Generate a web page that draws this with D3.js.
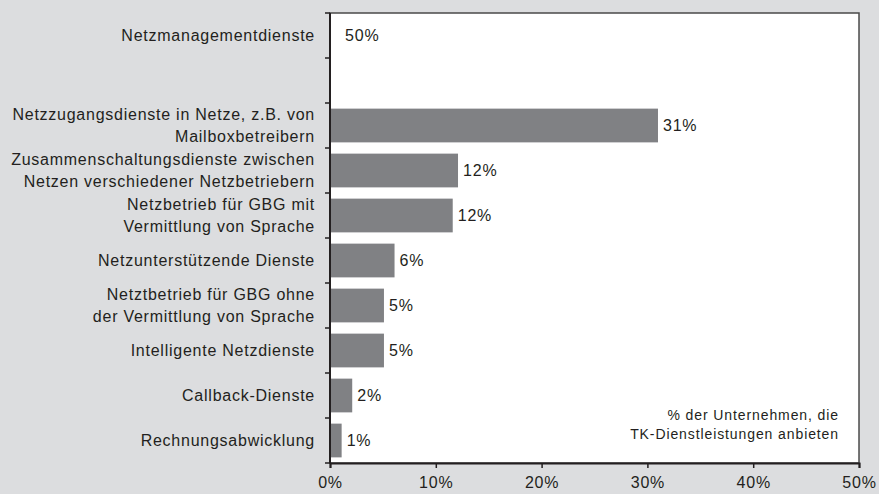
<!DOCTYPE html>
<html>
<head>
<meta charset="utf-8">
<script src="https://cdn.jsdelivr.net/npm/d3@7"></script>
<style>
  html, body { margin: 0; padding: 0; background: #dcdddf; }
  svg { display: block; }
  text { font-family: "Liberation Sans", Arial, sans-serif; fill: #231f20; }
</style>
</head>
<body>
<svg id="chart" width="879" height="494"></svg>
<script>
// TK-Dienstleistungen: share of companies offering each service

// Row keys top to bottom; "gap" is the empty slot below Netzmanagementdienste
const categories = [
  "netzmgmt", "gap", "netzzugang", "zusammenschaltung", "netzbetriebMit",
  "netzunterstuetzend", "netzbetriebOhne", "intelligent", "callback", "rechnung"
];
const categoryLines = [
  ["Netzmanagementdienste"],
  [],
  ["Netzzugangsdienste in Netze, z.B. von", "Mailboxbetreibern"],
  ["Zusammenschaltungsdienste zwischen", "Netzen verschiedener Netzbetriebern"],
  ["Netzbetrieb für GBG mit", "Vermittlung von Sprache"],
  ["Netzunterstützende Dienste"],
  ["Netztbetrieb für GBG ohne", "der Vermittlung von Sprache"],
  ["Intelligente Netzdienste"],
  ["Callback-Dienste"],
  ["Rechnungsabwicklung"]
];
// bar lengths as drawn (percent); null = no bar / no label
const shares = [50, null, 31, 12.1, 11.6, 6.1, 5.1, 5.1, 2.1, 1.1];
const shareLabels = ["50%", "", "31%", "12%", "12%", "6%", "5%", "5%", "2%", "1%"];
// the 50% row carries only its label in the source, no bar
const labelOnly = ["netzmgmt"];

const xTicks = [0, 10, 20, 30, 40, 50];
const noteLines = ["% der Unternehmen, die", "TK-Dienstleistungen anbieten"];

const W = 879, H = 494;
const margin = { top: 13, right: 20, bottom: 31, left: 330 };
const innerW = W - margin.left - margin.right;
const innerH = H - margin.top - margin.bottom;

const svg = d3.select("#chart");
const g = svg.append("g").attr("transform", `translate(${margin.left},${margin.top})`);

const x = d3.scaleLinear().domain([0, 50]).range([0, innerW]);
const y = d3.scaleBand().domain(categories).range([0, innerH])
  .paddingInner(0.25).paddingOuter(0.125);
const step = y.step();
const slotTop = k => y(k) - step * 0.125;

// plot area
g.append("rect")
  .attr("x", 0).attr("y", 0)
  .attr("width", innerW).attr("height", innerH)
  .attr("fill", "#fff")
  .attr("stroke", "#4a4a4a")
  .attr("stroke-width", 1.5);

// bars
const rows = categories.map((k, i) => ({ key: k, lines: categoryLines[i], value: shares[i], label: shareLabels[i] }));

g.selectAll("rect.bar")
  .data(rows.filter(d => d.value != null && !labelOnly.includes(d.key)))
  .join("rect")
    .attr("class", "bar")
    .attr("x", x(0))
    .attr("y", d => y(d.key))
    .attr("width", d => x(d.value) - x(0))
    .attr("height", y.bandwidth())
    .attr("fill", "#808184");

// value labels
g.selectAll("text.value")
  .data(rows.filter(d => d.label))
  .join("text")
    .attr("class", "value")
    .attr("x", d => labelOnly.includes(d.key) ? x(0) + 15 : x(d.value) + 5)
    .attr("y", d => y(d.key) + y.bandwidth() / 2)
    .attr("dy", "0.36em")
    .style("font-size", "16px")
    .style("letter-spacing", "0.8px")
    .text(d => d.label);

// left axis with ticks at the slot boundaries
const boundaries = categories.map(slotTop).concat([innerH]);
g.selectAll("line.ytick")
  .data(boundaries)
  .join("line")
    .attr("class", "ytick")
    .attr("x1", -5).attr("x2", 0)
    .attr("y1", d => d).attr("y2", d => d)
    .attr("stroke", "#231f20")
    .attr("stroke-width", 1.5);

g.append("line")
  .attr("x1", 0).attr("x2", 0).attr("y1", 0).attr("y2", innerH)
  .attr("stroke", "#231f20").attr("stroke-width", 2);

// category labels
const cat = g.selectAll("text.cat")
  .data(rows.filter(d => d.lines.length))
  .join("text")
    .attr("class", "cat")
    .attr("x", -15)
    .attr("y", d => y(d.key) + y.bandwidth() / 2)
    .attr("text-anchor", "end")
    .style("font-size", "16px")
    .style("letter-spacing", "0.75px");

cat.selectAll("tspan")
  .data(d => d.lines.map((t, i) => ({ t, i, n: d.lines.length })))
  .join("tspan")
    .attr("x", -15)
    .attr("dy", d => d.i === 0 ? `${0.36 - (d.n - 1) * 0.69}em` : "1.38em")
    .text(d => d.t);

// bottom axis
const xAxis = g.append("g")
  .attr("transform", `translate(0,${innerH})`)
  .call(d3.axisBottom(x).tickValues(xTicks).tickFormat(d => d + "%").tickSize(5).tickPadding(9));
xAxis.select(".domain").attr("stroke", "#231f20").attr("stroke-width", 2);
xAxis.selectAll(".tick line").attr("stroke", "#231f20").attr("stroke-width", 1.5);
xAxis.selectAll(".tick text")
  .attr("fill", "#231f20")
  .style("font-family", "'Liberation Sans', Arial, sans-serif")
  .style("font-size", "16px")
  .style("letter-spacing", "0.8px");

// note
g.append("text")
  .attr("x", innerW - 20)
  .attr("y", y("rechnung") - 4)
  .attr("text-anchor", "end")
  .style("font-size", "14px")
  .style("letter-spacing", "0.9px")
  .selectAll("tspan")
  .data(noteLines)
  .join("tspan")
    .attr("x", innerW - 20)
    .attr("dy", (d, i) => i === 0 ? 0 : "1.35em")
    .text(d => d);
</script>
</body>
</html>
